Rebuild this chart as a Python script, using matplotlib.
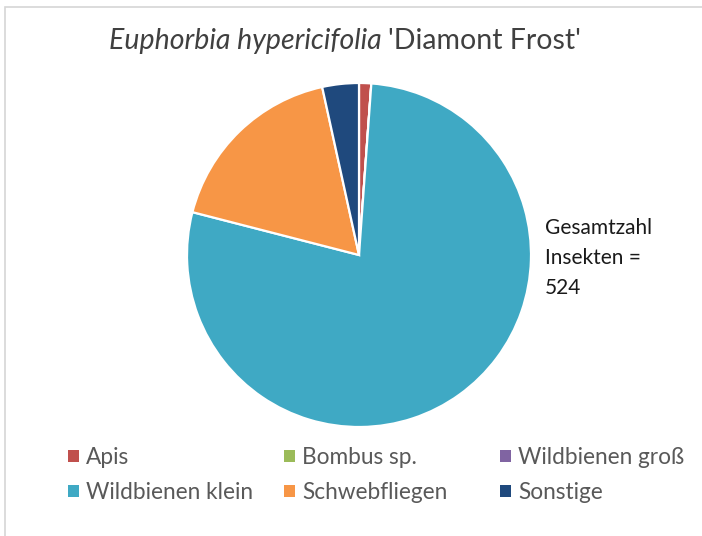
import matplotlib
matplotlib.use("Agg")
import matplotlib.pyplot as plt
from matplotlib.patches import Rectangle

# ---------------------------------------------------------------------------
# Data
# ---------------------------------------------------------------------------
categories = ["Apis", "Bombus sp.", "Wildbienen groß",
              "Wildbienen klein", "Schwebfliegen", "Sonstige"]
counts = [6, 0, 0, 408, 92, 18]
colors = ["#C0504D", "#9BBB59", "#8064A2", "#3FA9C4", "#F79646", "#1F497D"]
total_label = "Gesamtzahl\nInsekten =\n524"

plt.rcParams["font.family"] = ["Lato", "DejaVu Sans"]

W, H = 702, 536
fig = plt.figure(figsize=(W / 100, H / 100), dpi=100)
ax = fig.add_axes([0, 0, 1, 1])

# chart-area border (runs off the right and bottom edges)
fig.patches.append(Rectangle((5 / W, -0.1), 1.2, (H - 7) / H + 0.1,
                             transform=fig.transFigure, fill=False,
                             ec="#d6d6d6", lw=1.2))

wedges, _ = ax.pie(counts, colors=colors, startangle=90, counterclock=False,
                   center=(359, H - 255), radius=172, frame=True,
                   wedgeprops=dict(edgecolor="white", linewidth=1.6))
ax.set_xlim(0, W)
ax.set_ylim(0, H)
ax.axis("off")

# title: italic species name + cultivar
t1 = ax.text(109, H - 49, "Euphorbia hypericifolia", fontsize=20.5,
             style="italic", color="#404040", ha="left", va="baseline")
fig.canvas.draw()
bb = t1.get_window_extent()
ax.text(bb.x1 + 6, H - 49, "'Diamont Frost'", fontsize=20.5,
        color="#404040", ha="left", va="baseline")

for i, line in enumerate(total_label.split("\n")):
    ax.text(545, H - 234 - 30 * i, line, fontsize=15, color="#1a1a1a",
            ha="left", va="baseline")

# legend: three equal-width columns, filled row by row
col_x = [57, 273, 489]
for c in range(3):
    idx = [c, c + 3]
    leg = ax.legend([wedges[i] for i in idx], [categories[i] for i in idx],
                    loc="upper left", bbox_to_anchor=(col_x[c] / W, 1 - 436 / H),
                    frameon=False, fontsize=16.3, labelcolor="#595959",
                    handlelength=0.45, handleheight=0.45, handletextpad=0.35,
                    labelspacing=0.62, borderpad=0)
    for h in leg.legend_handles:
        h.set_edgecolor("none")
    if c < 2:
        ax.add_artist(leg)

fig.savefig("out.png", dpi=100, facecolor="white")
